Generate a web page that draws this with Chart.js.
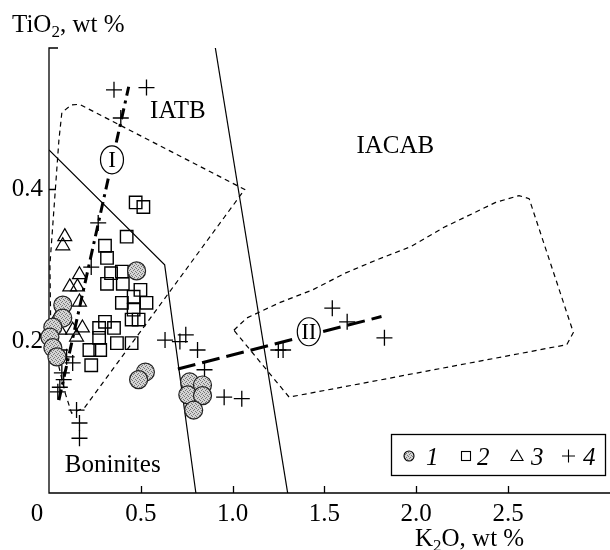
<!DOCTYPE html>
<html>
<head>
<meta charset="utf-8">
<script src="https://cdn.jsdelivr.net/npm/chart.js@4.4.1/dist/chart.umd.min.js"></script>
<style>
  html, body { margin: 0; padding: 0; background: #fff; font-family: "Liberation Serif", serif; }
  #wrap { width: 610px; height: 550px; }
</style>
</head>
<body>
<div id="wrap"><canvas id="tiK2O" width="610" height="550"></canvas></div>
<script>
// points are [K2O, TiO2] in wt %
const series1 = [[0.075,0.247],[0.075,0.230],[0.021,0.218],[0.005,0.205],[0.021,0.191],[0.043,0.179],
  [0.477,0.292],[0.525,0.159],[0.488,0.149],[0.766,0.146],[0.836,0.142],[0.756,0.129],[0.836,0.128],[0.788,0.109]];
const series2 = [[0.472,0.382],[0.514,0.376],[0.423,0.337],[0.305,0.325],[0.316,0.309],[0.338,0.289],[0.397,0.291],
  [0.316,0.275],[0.402,0.275],[0.498,0.267],[0.461,0.258],[0.397,0.250],[0.531,0.250],[0.461,0.241],[0.450,0.228],
  [0.488,0.228],[0.305,0.225],[0.273,0.217],[0.354,0.217],[0.273,0.204],[0.220,0.188],[0.279,0.188],[0.370,0.197],
  [0.450,0.197],[0.230,0.168]];
const series3 = [[0.086,0.337],[0.075,0.325],[0.166,0.287],[0.113,0.271],[0.155,0.271],[0.166,0.251],[0.043,0.230],
  [0.182,0.217],[0.129,0.214],[0.150,0.205],[0.059,0.214]];
const series4 = [[0.354,0.530],[0.531,0.533],[0.391,0.493],[0.268,0.355],[0.230,0.297],[0.059,0.188],[0.096,0.179],
  [0.129,0.171],[0.070,0.158],[0.059,0.139],[0.048,0.133],[0.080,0.149],[0.150,0.109],[0.166,0.092],[0.166,0.072],
  [0.632,0.201],[0.713,0.199],[0.745,0.208],[0.809,0.188],[0.847,0.162],[0.954,0.126],[1.050,0.124],[1.249,0.188],
  [1.275,0.188],[1.543,0.243],[1.624,0.225],[1.827,0.204]];

// field boundaries
const boninBoundary = [[0,0.451],[0.63,0.30],[0.80,0]];
const iacabBoundary = [[0.906,0.585],[1.30,0]];
const iatbField = [[0.01,0.21],[0.005,0.30],[0.054,0.464],[0.07,0.50],[0.12,0.51],[0.166,0.511],[1.066,0.399],
  [0.193,0.112],[0.123,0.105],[0.09,0.13],[0.01,0.21]];
const iacabField = [[1.007,0.214],[1.077,0.230],[1.254,0.250],[1.436,0.267],[1.613,0.289],[1.79,0.307],[1.972,0.324],
  [2.149,0.349],[2.433,0.382],[2.56,0.391],[2.615,0.387],[2.856,0.211],[2.82,0.195],[1.308,0.126],[1.007,0.214]];
const trendI = [[0.054,0.122],[0.434,0.534]];
const trendII = [[0.702,0.163],[1.811,0.232]];

const xTicks = [0.5, 1.0, 1.5, 2.0, 2.5];
const xTickLabels = ['0.5', '1.0', '1.5', '2.0', '2.5'];
const yTicks = [0.2, 0.4];
const yTickLabels = ['0.2', '0.4'];
const fieldNames = ['IATB', 'IACAB', 'Boninites'];
const fieldNamePos = [[0.702,0.493],[1.886,0.447],[0.086,0.028]];
const trendNames = ['I', 'II'];
const trendNamePos = [[0.343,0.438],[1.415,0.212]];
const legendNames = ['1', '2', '3', '4'];

const FONT = '"Liberation Serif", "DejaVu Serif", serif';
const toXY = (arr) => arr.map((p) => ({ x: p[0], y: p[1] }));

// stippled grey fill for the circles
const patCanvas = document.createElement('canvas');
patCanvas.width = 4; patCanvas.height = 4;
const pc = patCanvas.getContext('2d');
pc.fillStyle = '#d4d4d4'; pc.fillRect(0, 0, 4, 4);
pc.fillStyle = '#777';
pc.fillRect(0, 0, 1, 1); pc.fillRect(2, 1, 1, 1); pc.fillRect(1, 2, 1, 1); pc.fillRect(3, 3, 1, 1);
const stipple = document.getElementById('tiK2O').getContext('2d').createPattern(patCanvas, 'repeat');

function lineSet(data, width, dash, order) {
  return {
    data: toXY(data), showLine: true, pointRadius: 0, borderColor: '#000',
    borderWidth: width, borderDash: dash, fill: false, tension: 0, order: order,
  };
}

const frame = {
  id: 'frame',
  beforeDatasetsDraw(chart) {
    const { ctx, chartArea: a, scales: { x, y } } = chart;
    ctx.save();
    ctx.strokeStyle = '#000';
    ctx.lineWidth = 1.3;
    ctx.beginPath();
    ctx.moveTo(a.left + 9, a.top);
    ctx.lineTo(a.left, a.top);
    ctx.lineTo(a.left, a.bottom);
    ctx.lineTo(610, a.bottom);
    xTicks.forEach((v) => {
      const px = Math.round(x.getPixelForValue(v)) + 0.5;
      ctx.moveTo(px, a.bottom); ctx.lineTo(px, a.bottom - 7);
    });
    yTicks.forEach((v) => {
      const py = Math.round(y.getPixelForValue(v)) + 0.5;
      ctx.moveTo(a.left, py); ctx.lineTo(a.left + 7, py);
    });
    ctx.stroke();

    ctx.fillStyle = '#000';
    ctx.font = '25px ' + FONT;
    ctx.textAlign = 'center';
    ctx.textBaseline = 'alphabetic';
    xTicks.forEach((v, i) => ctx.fillText(xTickLabels[i], x.getPixelForValue(v), 521));
    ctx.fillText('0', a.left - 12, 521);
    ctx.textAlign = 'right';
    ctx.textBaseline = 'middle';
    yTicks.forEach((v, i) => ctx.fillText(yTickLabels[i], a.left - 6, y.getPixelForValue(v) + 1));

    // axis titles with subscripts
    const sub = (parts, x0, base) => {
      let cx = x0;
      ctx.textAlign = 'left';
      ctx.textBaseline = 'alphabetic';
      parts.forEach(([t, small]) => {
        ctx.font = (small ? '17px ' : '25px ') + FONT;
        ctx.fillText(t, cx, base + (small ? 5 : 0));
        cx += ctx.measureText(t).width;
      });
    };
    sub([['TiO'], ['2', true], [', wt %']], 12, 32);
    sub([['K'], ['2', true], ['O, wt %']], 415, 546);
    ctx.restore();
  },
  afterDatasetsDraw(chart) {
    const { ctx, scales: { x, y } } = chart;
    ctx.save();
    ctx.fillStyle = '#000';
    ctx.font = '25px ' + FONT;
    ctx.textBaseline = 'alphabetic';
    fieldNames.forEach((t, i) => {
      ctx.textAlign = i === 2 ? 'left' : 'center';
      ctx.fillText(t, x.getPixelForValue(fieldNamePos[i][0]), y.getPixelForValue(fieldNamePos[i][1]));
    });

    // ringed trend labels
    ctx.lineWidth = 1.2;
    ctx.strokeStyle = '#000';
    trendNames.forEach((t, i) => {
      const cx = x.getPixelForValue(trendNamePos[i][0]);
      const cy = y.getPixelForValue(trendNamePos[i][1]);
      ctx.beginPath();
      ctx.ellipse(cx, cy, 11.5, 14, 0, 0, Math.PI * 2);
      ctx.fillStyle = '#fff';
      ctx.fill();
      ctx.stroke();
      ctx.fillStyle = '#000';
      ctx.font = '23px ' + FONT;
      ctx.textAlign = 'center';
      ctx.textBaseline = 'middle';
      ctx.fillText(t, cx, cy + 1);
    });

    // legend box
    ctx.fillStyle = '#fff';
    ctx.fillRect(391, 434, 215, 41);
    ctx.lineWidth = 1.3;
    ctx.strokeRect(391.5, 434.5, 214, 41);
    const ly = 456;
    ctx.lineWidth = 1.1;
    ctx.beginPath(); ctx.arc(409, ly, 5, 0, Math.PI * 2);
    ctx.fillStyle = stipple; ctx.fill(); ctx.stroke();
    ctx.strokeRect(461.5, ly - 4.5, 9, 9);
    ctx.beginPath(); ctx.moveTo(517, ly - 6); ctx.lineTo(523, ly + 4.5); ctx.lineTo(511, ly + 4.5); ctx.closePath(); ctx.stroke();
    ctx.beginPath(); ctx.moveTo(562, ly); ctx.lineTo(575, ly); ctx.moveTo(568.5, ly - 6.5); ctx.lineTo(568.5, ly + 6.5); ctx.stroke();
    ctx.fillStyle = '#000';
    ctx.font = 'italic 25px ' + FONT;
    ctx.textAlign = 'left';
    ctx.textBaseline = 'alphabetic';
    const lx = [426, 477, 531, 583];
    legendNames.forEach((t, i) => ctx.fillText(t, lx[i], 465));
    ctx.restore();
  },
};

function build() {
  new Chart(document.getElementById('tiK2O'), {
    type: 'scatter',
    data: {
      datasets: [
        { data: toXY(series1), pointStyle: 'circle', pointRadius: 9, backgroundColor: stipple,
          borderColor: '#222', borderWidth: 1.2, order: 1, clip: false },
        { data: toXY(series2), pointStyle: 'rect', pointRadius: 8.8, backgroundColor: 'rgba(0,0,0,0)',
          borderColor: '#000', borderWidth: 1.4, order: 2, clip: false },
        { data: toXY(series3), pointStyle: 'triangle', pointRadius: 8, backgroundColor: 'rgba(0,0,0,0)',
          borderColor: '#000', borderWidth: 1.2, order: 3, clip: false },
        { data: toXY(series4), pointStyle: 'cross', pointRadius: 8, borderColor: '#000',
          borderWidth: 1.3, order: 4, clip: false },
        lineSet(boninBoundary, 1.2, [], 10),
        lineSet(iacabBoundary, 1.2, [], 11),
        lineSet(iatbField, 1.2, [5, 4], 12),
        lineSet(iacabField, 1.2, [5, 4], 13),
        lineSet(trendI, 3, [11, 5, 3, 5], 9),
        lineSet(trendII, 3, [18, 7], 8),
      ],
    },
    options: {
      responsive: false,
      animation: false,
      events: [],
      layout: { padding: { left: 49, right: 1, top: 48, bottom: 57 } },
      scales: {
        x: { type: 'linear', min: 0, max: 3, display: false },
        y: { type: 'linear', min: 0, max: 0.585, display: false },
      },
      plugins: { legend: { display: false }, tooltip: { enabled: false } },
    },
    plugins: [frame],
  });
}

Promise.all([
  document.fonts.load('25px "Liberation Serif"'),
  document.fonts.load('italic 25px "Liberation Serif"'),
]).then(build, build);
</script>
</body>
</html>
